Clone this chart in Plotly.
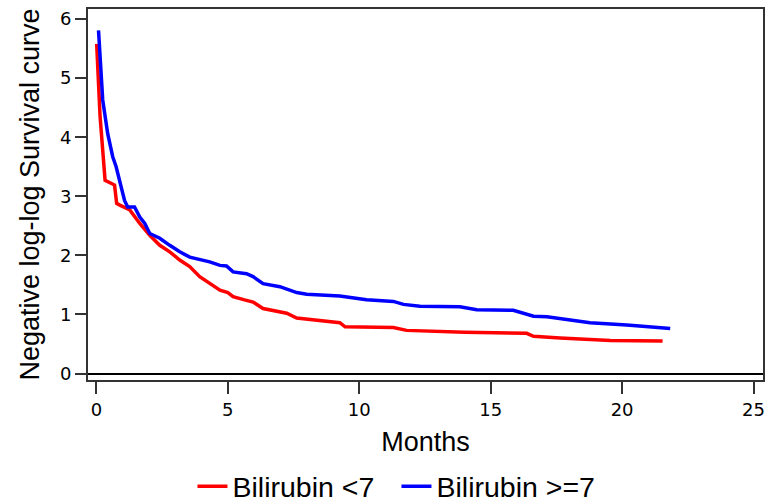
import plotly.graph_objects as go

# Negative log-log survival estimates by bilirubin group
months_low = [0.01, 0.08, 0.14, 0.24, 0.33, 0.69, 0.77, 0.89, 1.27, 1.65, 2.03, 2.41,
              2.79, 3.17, 3.55, 3.93, 4.31, 4.70, 5.0, 5.2, 5.6, 5.96, 6.34, 7.24,
              7.62, 8.5, 9.26, 9.46, 11.3, 11.8, 12.3, 14.0, 16.37, 16.63, 17.64,
              18.4, 19.55, 21.54]
nll_low = [5.58, 4.9, 4.35, 3.78, 3.27, 3.19, 2.88, 2.85, 2.77, 2.54, 2.34, 2.17,
           2.06, 1.92, 1.81, 1.64, 1.52, 1.41, 1.37, 1.30, 1.25, 1.21, 1.10, 1.02,
           0.94, 0.89, 0.86, 0.79, 0.78, 0.73, 0.72, 0.70, 0.68, 0.63, 0.60,
           0.58, 0.56, 0.55]

months_high = [0.08, 0.16, 0.24, 0.43, 0.62, 0.75, 0.94, 1.07, 1.19, 1.45, 1.65, 1.84,
               2.03, 2.41, 2.79, 3.17, 3.55, 3.93, 4.31, 4.70, 4.95, 5.2, 5.71, 5.96,
               6.34, 6.98, 7.62, 8.0, 9.26, 10.28, 11.3, 11.68, 12.31, 13.83, 14.47,
               15.86, 16.63, 17.14, 17.64, 18.78, 20.18, 21.83]
nll_high = [5.81, 5.1, 4.63, 4.06, 3.67, 3.50, 3.16, 2.93, 2.82, 2.82, 2.65, 2.54,
            2.37, 2.29, 2.17, 2.06, 1.97, 1.93, 1.89, 1.83, 1.82, 1.72, 1.69, 1.64,
            1.52, 1.47, 1.37, 1.34, 1.31, 1.25, 1.22, 1.17, 1.14, 1.13, 1.08,
            1.07, 0.97, 0.96, 0.93, 0.86, 0.82, 0.76]

group_names = ["Bilirubin <7", "Bilirubin >=7"]
x_ticks = [0, 5, 10, 15, 20, 25]
y_ticks = [0, 1, 2, 3, 4, 5, 6]

fig = go.Figure()
fig.add_trace(go.Scatter(x=months_low, y=nll_low, mode="lines", name=group_names[0],
                         line=dict(color="#ff0000", width=3.5)))
fig.add_trace(go.Scatter(x=months_high, y=nll_high, mode="lines", name=group_names[1],
                         line=dict(color="#0000ff", width=3.5)))

fig.update_layout(
    width=780, height=502,
    margin=dict(l=88, r=17, t=9, b=122, autoexpand=False),
    paper_bgcolor="white", plot_bgcolor="white",
    showlegend=True,
    legend=dict(orientation="h", x=0.457, xanchor="center", y=-0.288, yanchor="middle",
                font=dict(family="Liberation Sans, Arial, sans-serif", size=28.5, color="black"),
                itemwidth=30, entrywidth=159, entrywidthmode="pixels"),
)
fig.update_xaxes(
    range=[-0.32, 25.36], tickvals=x_ticks, ticks="outside", ticklen=12, tickwidth=1.5,
    tickcolor="#333", showline=True, linecolor="#333", linewidth=2, mirror=True,
    showgrid=False, zeroline=False, automargin=False,
    tickfont=dict(family="DejaVu Sans, sans-serif", size=18, color="black"),
    title=dict(text="Months", standoff=14,
               font=dict(family="Liberation Sans, Arial, sans-serif", size=27, color="black")),
)
fig.update_yaxes(
    range=[-0.11, 6.17], tickvals=y_ticks, ticks="outside", ticklen=11, tickwidth=1.5,
    tickcolor="#333", showline=True, linecolor="#333", linewidth=2, mirror=True,
    showgrid=False, zeroline=True, zerolinecolor="black", zerolinewidth=2, automargin=False,
    tickfont=dict(family="DejaVu Sans, sans-serif", size=18, color="black"),
    title=dict(text="Negative log-log Survival curve", standoff=12,
               font=dict(family="Liberation Sans, Arial, sans-serif", size=27, color="black")),
)

fig.write_html("out.html")
